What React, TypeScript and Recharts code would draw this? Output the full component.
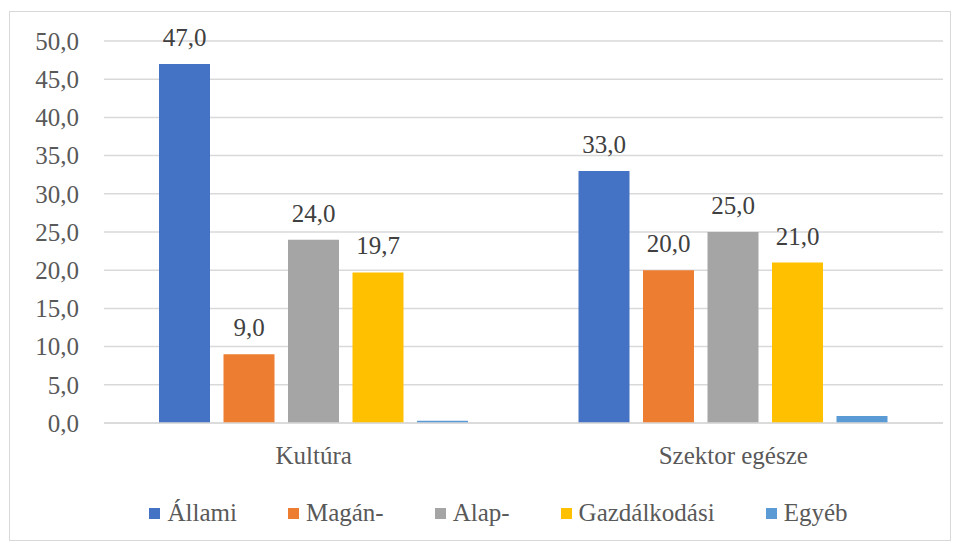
import { BarChart, Bar, XAxis, YAxis, CartesianGrid, Legend, LabelList } from 'recharts';

const categories = ['Kultúra', 'Szektor egésze'];
const allami = [47.0, 33.0];
const magan = [9.0, 20.0];
const alap = [24.0, 25.0];
const gazdalkodasi = [19.7, 21.0];
const egyeb = [0.3, 0.9];
const yTicks = [0, 5, 10, 15, 20, 25, 30, 35, 40, 45, 50];

const series = [
  { key: 'Állami', values: allami, color: '#4472C4', label: true },
  { key: 'Magán-', values: magan, color: '#ED7D31', label: true },
  { key: 'Alap-', values: alap, color: '#A5A5A5', label: true },
  { key: 'Gazdálkodási', values: gazdalkodasi, color: '#FFC000', label: true },
  { key: 'Egyéb', values: egyeb, color: '#5B9BD5', label: false },
];

const data = categories.map((name, i) => {
  const row: Record<string, string | number> = { name };
  series.forEach((s) => {
    row[s.key] = s.values[i];
  });
  return row;
});

const fmt = (v: number) => v.toFixed(1).replace('.', ',');
const font = "'Liberation Serif', 'Times New Roman', serif";

// legend in series order (recharts sorts by name otherwise)
const renderLegend = () => (
  <div
    style={{
      display: 'flex',
      justifyContent: 'center',
      gap: 51,
      fontFamily: font,
      fontSize: 25,
      color: '#595959',
      paddingLeft: 44,
      paddingTop: 20,
    }}
  >
    {series.map((s) => (
      <div key={s.key} style={{ display: 'flex', alignItems: 'center' }}>
        <span style={{ width: 11, height: 11, background: s.color, marginRight: 7, display: 'inline-block' }} />
        <span>{s.key}</span>
      </div>
    ))}
  </div>
);

export default function App() {
  return (
    <div
      style={{
        position: 'absolute',
        left: 9,
        top: 11,
        width: 940,
        height: 528,
        border: '1px solid #d9d9d9',
        background: '#fff',
        fontFamily: font,
      }}
    >
      <BarChart
        width={940}
        height={528}
        data={data}
        margin={{ top: 29, right: 7, left: 0, bottom: 0 }}
        barSize={51}
        barGap={13.5}
      >
        <CartesianGrid vertical={false} stroke="#d9d9d9" strokeWidth={1.5} />
        <XAxis
          dataKey="name"
          axisLine={{ stroke: '#d9d9d9', strokeWidth: 1.5 }}
          tickLine={false}
          tickSize={0}
          tickMargin={23}
          height={56}
          tick={{ fill: '#595959', fontSize: 25, fontFamily: font }}
        />
        <YAxis
          domain={[0, 50]}
          ticks={yTicks}
          width={94}
          axisLine={false}
          tickLine={false}
          tickSize={0}
          tickMargin={25}
          tickFormatter={fmt}
          tick={{ fill: '#595959', fontSize: 25, fontFamily: font }}
        />
        <Legend verticalAlign="bottom" height={61} content={renderLegend} />
        {series.map((s) => (
          <Bar key={s.key} dataKey={s.key} fill={s.color} isAnimationActive={false}>
            {s.label && (
              <LabelList
                dataKey={s.key}
                position="top"
                offset={18}
                formatter={(v: number) => fmt(v)}
                fill="#404040"
                fontSize={25}
                fontFamily={font}
              />
            )}
          </Bar>
        ))}
      </BarChart>
    </div>
  );
}
